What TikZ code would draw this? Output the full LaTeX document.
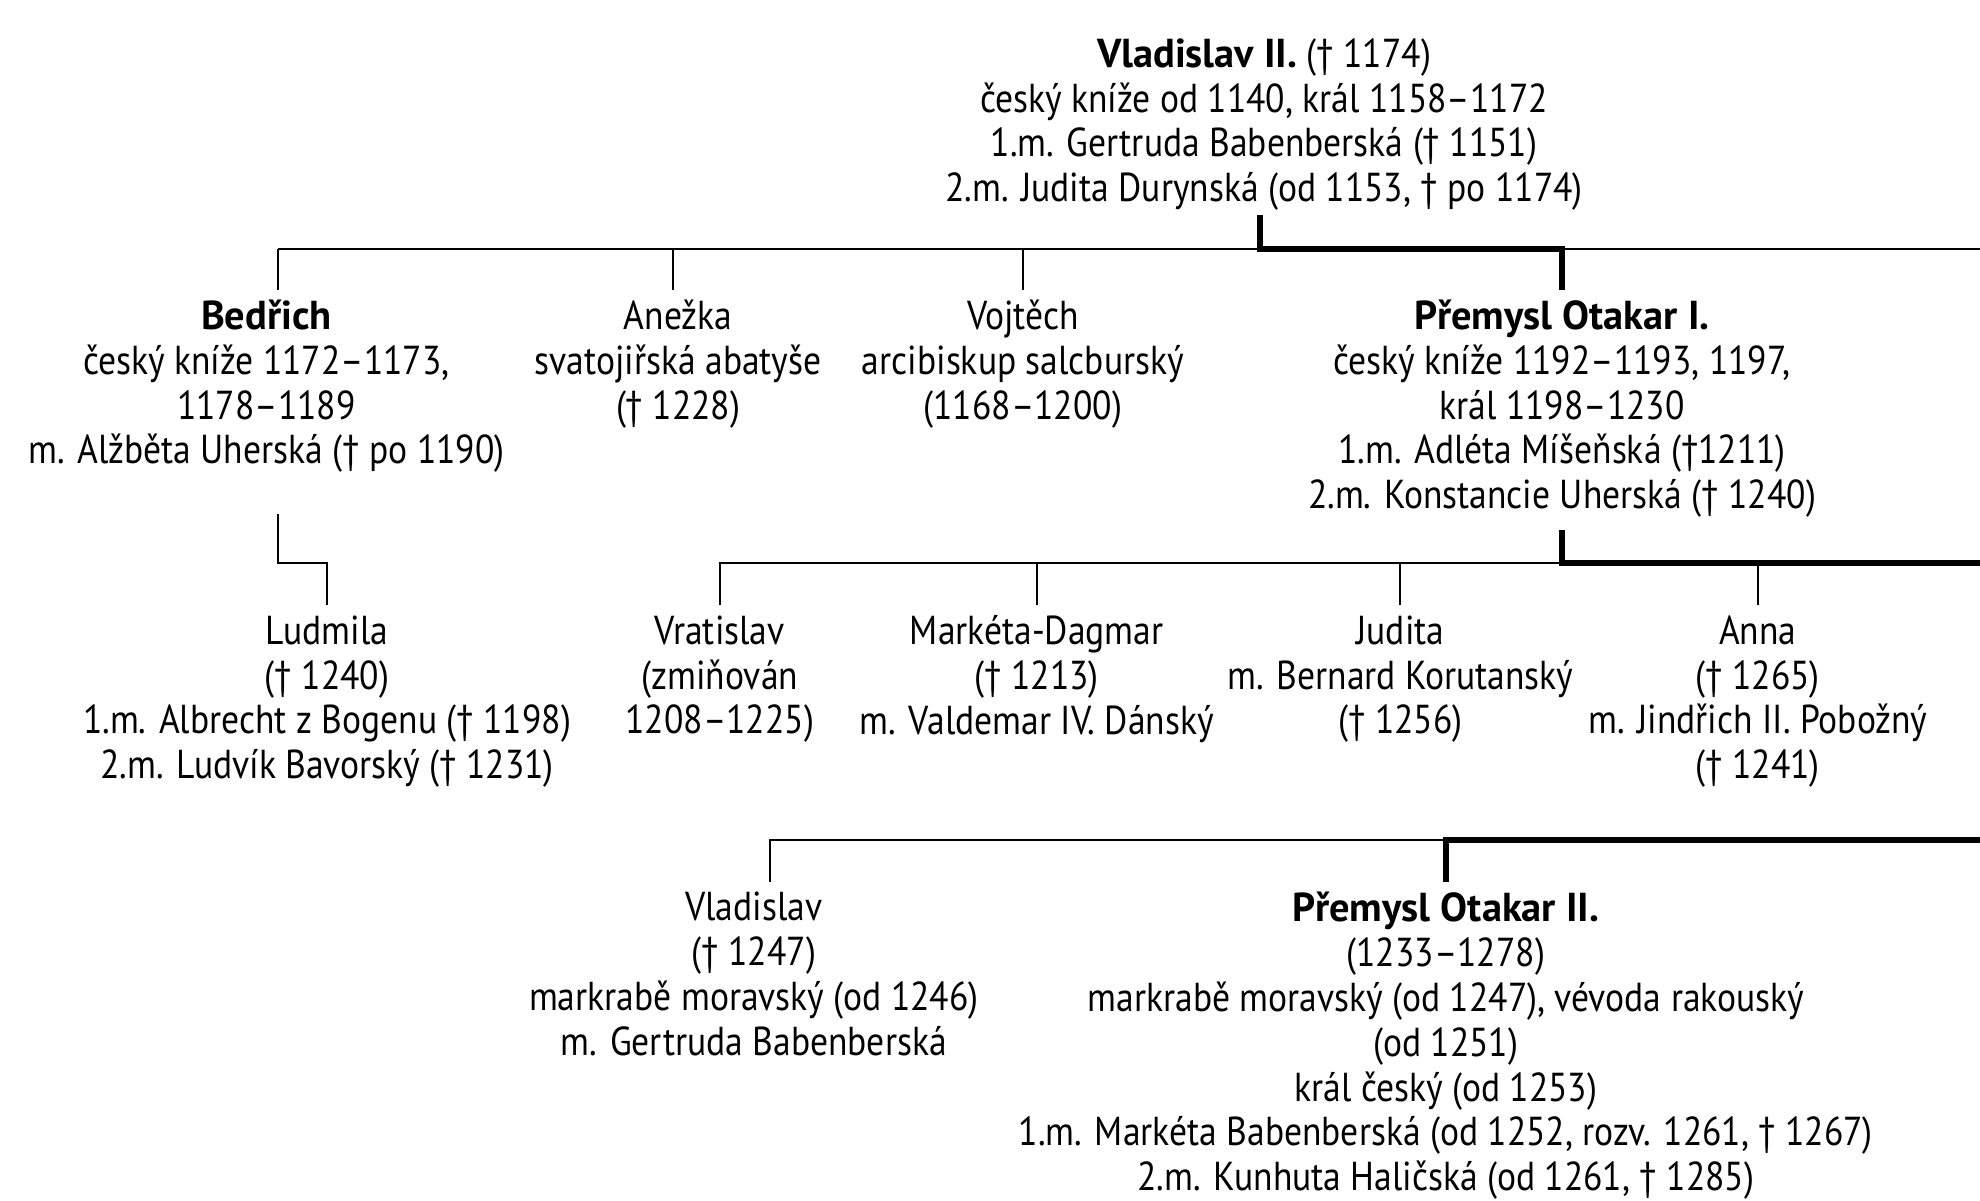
\documentclass[tikz,border=0pt]{standalone}
\usepackage{fontspec}
\setmainfont[FakeStretch=0.88]{PT Sans}
\newfontfamily\namefont{PT Sans}
\newcommand\pname[1]{{\namefont\bfseries #1}}
\usepackage{tikz}

\begin{document}
\begin{tikzpicture}[x=0.5pt, y=-0.5pt,
		person/.style={align=center, anchor=north, inner xsep=0pt, inner ysep=3.8pt,
			font=\fontsize{16}{17.75}\selectfont, execute at begin node=\strut},
		thinline/.style={line width=0.8pt},
		thickline/.style={line width=2.3pt}]
			%%%%% START %%%%%
			
			\useasboundingbox (0, 0) rectangle (1568, 951);
			
			\node[person] (vlad) at (1001, 22.5) {\pname{Vladislav II.} († 1174)\\český kníže od 1140, král 1158–1172\\1.m. Gertruda Babenberská († 1151)\\2.m. Judita Durynská (od 1153, † po 1174)};
			
			\node[person] (bedrich) at (211, 229.5) {\pname{Bedřich}\\český kníže 1172–1173,\\1178–1189\\m. Alžběta Uherská († po 1190)};
			\node[person] (anezka) at (537, 229.5) {Anežka\\svatojiřská abatyše\\(† 1228)};
			\node[person] (vojtech) at (810, 229.5) {Vojtěch\\arcibiskup salcburský\\(1168–1200)};
			\node[person] (pre1) at (1237, 229.5) {\pname{Přemysl Otakar I.}\\český kníže 1192–1193, 1197,\\král 1198–1230\\1.m. Adléta Míšeňská (†1211)\\2.m. Konstancie Uherská († 1240)};
			
			\node[person] (ludmila) at (259, 479.5) {Ludmila\\(† 1240)\\1.m. Albrecht z Bogenu († 1198)\\2.m. Ludvík Bavorský († 1231)};
			\node[person] (vratislav) at (570, 479.5) {Vratislav\\(zmiňován\\1208–1225)};
			\node[person] (marketa) at (821, 479.5) {Markéta-Dagmar\\(† 1213)\\m. Valdemar IV. Dánský};
			\node[person] (judita) at (1109, 479.5) {Judita\\m. Bernard Korutanský\\(† 1256)};
			\node[person] (anna) at (1392, 479.5) {Anna\\(† 1265)\\m. Jindřich II. Pobožný\\(† 1241)};
			
			\node[person] (vladislav) at (597, 698.5) {Vladislav\\(† 1247)\\markrabě moravský (od 1246)\\m. Gertruda Babenberská};
			\node[person] (pre2) at (1145, 698.5) {\pname{Přemysl Otakar II.}\\(1233–1278)\\markrabě moravský (od 1247), vévoda rakouský\\(od 1251)\\král český (od 1253)\\1.m. Markéta Babenberská (od 1252, rozv. 1261, † 1267)\\2.m. Kunhuta Haličská (od 1261, † 1285)};
			
			\coordinate (d1) at (220, 197);
			\coordinate (d2) at (533, 197);
			\coordinate (d3) at (810, 197);
			\coordinate (e1) at (1568, 197);
			\coordinate (v1) at (998, 170);
			
			\draw[thinline] (d1) -- (e1);
			\draw[thinline] (d1) -- (bedrich.north -| d1);
			\draw[thinline] (d2) -- (anezka.north -| d2);
			\draw[thinline] (d3) -- (vojtech.north -| d3);
			\draw[thickline] (v1) |- (pre1.north |- d1) -- (pre1.north);
			
			\coordinate (b2) at (220, 407);
			\draw[thinline] (b2) |- (ludmila.north |- 0, 446) -- (ludmila.north);
			
			\coordinate (p1) at (1237, 420);
			\coordinate (e2) at (1568, 446);
			\draw[thinline] (vratislav.north) |- (p1 |- e2);
			\draw[thinline] (marketa.north) -- (marketa.north |- e2);
			\draw[thinline] (judita.north) -- (judita.north |- e2);
			\draw[thinline] (anna.north) -- (anna.north |- e2);
			\draw[thickline] (p1) |- (e2);
			
			\coordinate (r1) at (610, 665);
			\coordinate (e3) at (1568, 665);
			\draw[thinline] (vladislav.north -| r1) |- (pre2.north |- e3);
			\draw[thickline] (e3) -| (pre2.north);
			
			%%%%% END %%%%%
		\end{tikzpicture}
\end{document}
